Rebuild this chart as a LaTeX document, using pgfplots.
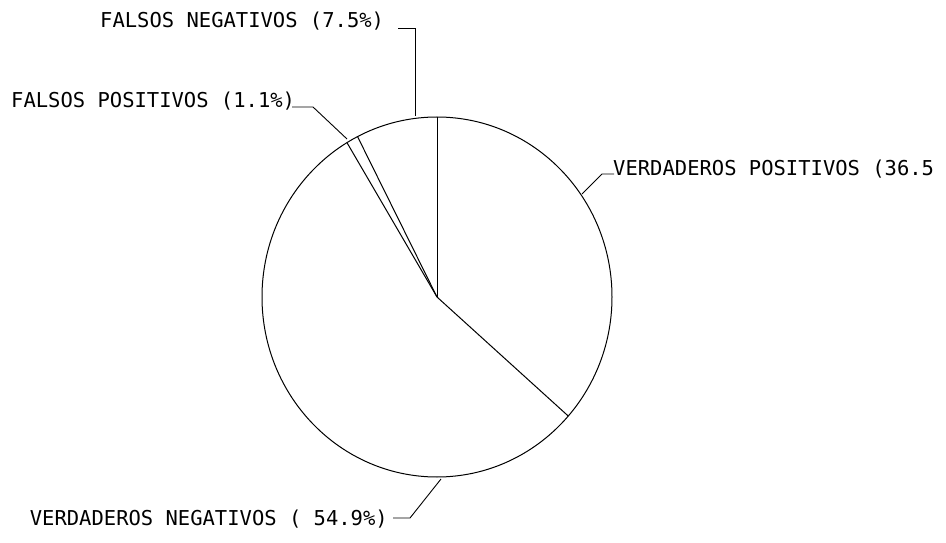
\documentclass[border=0pt]{standalone}
\usepackage{pgfplots}
\usepackage{pgfplotstable}
\pgfplotsset{compat=1.18}
\usepackage{fontspec}
\setmainfont{DejaVu Sans Mono}

\pgfplotstableread{
categoria pct
VP 36.5
VN 54.9
FP 1.1
FN 7.5
}\piedata

\begin{document}
\begin{tikzpicture}
\begin{axis}[
  width=946pt, height=542pt, scale only axis,
  xmin=0, xmax=946, ymin=-542, ymax=0,
  hide axis, clip=false,
]
\pgfplotsextra{
  \path (axis cs:0,0) -- (axis cs:946,-542);
  % pie outline
  \draw[line width=1pt] (axis cs:437,-297) ellipse [x radius=175, y radius=180];
  % slice boundaries from the percentages, clockwise from the top
  \pgfplotstablegetrowsof{\piedata}
  \pgfmathtruncatemacro\nrows{\pgfplotsretval-1}
  \gdef\curangle{90}
  \foreach \i in {0,...,\nrows}{
    \pgfplotstablegetelem{\i}{pct}\of\piedata
    \pgfmathsetmacro\nextangle{\curangle-3.6*\pgfplotsretval}
    \draw[line width=1pt] (axis cs:437,-297) -- (axis cs:{437+175*cos(\curangle)},{-297+180*sin(\curangle)});
    \xdef\curangle{\nextangle}
  }
  % leader lines
  \draw[line width=0.9pt] (axis cs:398,-28) -- (axis cs:415,-28) -- (axis cs:415,-116);
  \draw[line width=0.9pt] (axis cs:292,-107) -- (axis cs:313,-107) -- (axis cs:347,-139);
  \draw[line width=0.9pt] (axis cs:582,-194) -- (axis cs:602,-174) -- (axis cs:614,-174);
  \draw[line width=0.9pt] (axis cs:441,-479) -- (axis cs:410,-518) -- (axis cs:393,-518);
  % labels
  \tikzset{lab/.style={inner sep=0pt, font=\fontsize{20.5}{24}\selectfont}}
  \node[lab, anchor=base west] at (axis cs:100,-28) {FALSOS NEGATIVOS (7.5\%)};
  \node[lab, anchor=base west] at (axis cs:11,-108) {FALSOS POSITIVOS (1.1\%)};
  \node[lab, anchor=base west] at (axis cs:613,-176) {VERDADEROS POSITIVOS (36.5};
  \node[lab, anchor=base east] at (axis cs:388,-525) {VERDADEROS NEGATIVOS ( 54.9\%)};
}
\end{axis}
\end{tikzpicture}
\end{document}
